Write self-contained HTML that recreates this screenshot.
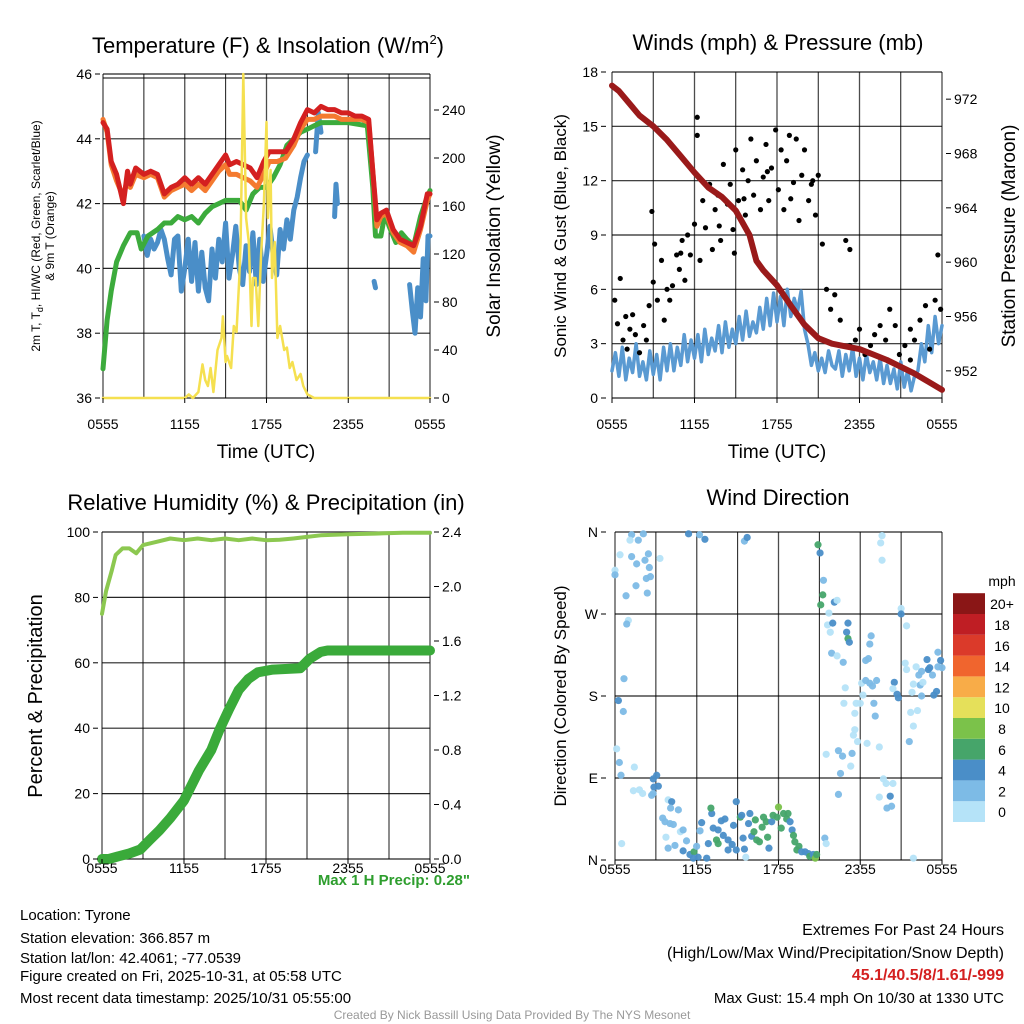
<!DOCTYPE html>
<html><head><meta charset="utf-8"><style>
body{margin:0;background:#fff}
svg{font-family:"Liberation Sans",sans-serif;display:block}
</style></head><body>
<svg id="s" width="1024" height="1024" viewBox="0 0 1024 1024">
<g id="grid"></g><g id="marks"></g><g id="axes"></g>
<text x="268" y="53" font-size="22" text-anchor="middle">Temperature (F) &amp; Insolation (W/m<tspan font-size="13" dy="-9">2</tspan><tspan dy="9">)</tspan></text>
<text x="778" y="50" font-size="22" text-anchor="middle">Winds (mph) &amp; Pressure (mb)</text>
<text x="266" y="510" font-size="22" text-anchor="middle">Relative Humidity (%) &amp; Precipitation (in)</text>
<text x="778" y="505" font-size="22" text-anchor="middle">Wind Direction</text>
<text transform="translate(40,236) rotate(-90)" font-size="12" text-anchor="middle">2m T, T<tspan font-size="9" dy="3">d</tspan><tspan dy="-3">, HI/WC (Red, Green, Scarlet/Blue)</tspan></text>
<text transform="translate(54,236) rotate(-90)" font-size="12" text-anchor="middle">&amp; 9m T (Orange)</text>
<text transform="translate(500,236) rotate(-90)" font-size="19" text-anchor="middle">Solar Insolation (Yellow)</text>
<text transform="translate(566,236) rotate(-90)" font-size="17" text-anchor="middle">Sonic Wind &amp; Gust (Blue, Black)</text>
<text transform="translate(1015,236) rotate(-90)" font-size="19" text-anchor="middle">Station Pressure (Maroon)</text>
<text transform="translate(42,696) rotate(-90)" font-size="20" text-anchor="middle">Percent &amp; Precipitation</text>
<text transform="translate(566,696) rotate(-90)" font-size="17" text-anchor="middle">Direction (Colored By Speed)</text>
<text x="266" y="458" font-size="19" text-anchor="middle">Time (UTC)</text>
<text x="777" y="458" font-size="19" text-anchor="middle">Time (UTC)</text>
<text x="470" y="885" font-size="15" font-weight="bold" fill="#2e9e2e" text-anchor="end">Max 1 H Precip: 0.28"</text>
<g font-size="15">
<text x="20" y="920">Location: Tyrone</text>
<text x="20" y="943">Station elevation: 366.857 m</text>
<text x="20" y="963">Station lat/lon: 42.4061; -77.0539</text>
<text x="20" y="981">Figure created on Fri, 2025-10-31, at 05:58 UTC</text>
<text x="20" y="1003">Most recent data timestamp: 2025/10/31 05:55:00</text>
</g>
<g font-size="16" text-anchor="end">
<text x="1004" y="935">Extremes For Past 24 Hours</text>
<text x="1004" y="958">(High/Low/Max Wind/Precipitation/Snow Depth)</text>
<text x="1004" y="980" font-weight="bold" fill="#d42020">45.1/40.5/8/1.61/-999</text>
<text x="1004" y="1003" font-size="15">Max Gust: 15.4 mph On 10/30 at 1330 UTC</text>
</g>
<text x="512" y="1019" font-size="12" fill="#999" text-anchor="middle">Created By Nick Bassill Using Data Provided By The NYS Mesonet</text>
<text x="1002" y="586" font-size="14" text-anchor="middle">mph</text>
</svg>
<script>
const xTicks=["0555","1155","1755","2355","0555"];
const tempTicks=[36,38,40,42,44,46];
const solarTicks=[0,40,80,120,160,200,240];
const windTicks=[0,3,6,9,12,15,18];
const presTicks=[952,956,960,964,968,972];
const rhTicks=[0,20,40,60,80,100];
const precipTicks=["0.0","0.4","0.8","1.2","1.6","2.0","2.4"];
const dirTicks=["N","E","S","W","N"];
const cbLabels=["0","2","4","6","8","10","12","14","16","18","20+"];
const cbColors=["#b5e3f8","#7dbbe6","#4a8ec8","#46a56a","#7bc24a","#e5e05a","#f8ac48","#f0652e","#db3a2a","#bf1e24","#8a1616"];

const redH=[0,0.3,0.6,1,1.5,1.8,2,2.4,3,3.5,4,4.5,5,5.5,6,6.5,7,7.5,8,8.5,9,9.3,9.8,10.3,10.8,11.3,11.8,12.2,12.8,13.4,14,14.5,15,15.5,16,16.5,17,17.5,18,18.5,19,19.5,19.8,20.1,20.4,20.8,21.3,21.8,22.3,22.8,23.3,23.8,24];
const redT=[44.5,44.3,43.3,42.9,42.0,43.0,42.6,43.1,42.9,43.0,42.9,42.3,42.5,42.6,42.8,42.6,42.8,42.6,42.9,43.2,43.5,43.2,43.3,43.2,43.1,42.8,43.3,43.6,43.6,43.6,44.0,44.5,44.9,44.8,45.0,44.9,44.9,44.8,44.8,44.7,44.7,44.6,43.0,41.5,41.7,41.8,41.2,40.9,40.8,40.7,41.3,42.3,42.3];
const orangeT=[44.6,44.2,43.2,42.7,42.2,42.8,42.5,42.9,42.8,42.9,42.8,42.2,42.4,42.5,42.6,42.4,42.6,42.4,42.7,43.0,43.2,42.9,42.9,42.8,42.7,42.5,42.9,43.3,43.3,43.4,43.8,44.3,44.6,44.6,44.7,44.7,44.7,44.6,44.6,44.6,44.6,44.5,43.0,41.3,41.6,41.7,41.1,40.8,40.7,40.5,41.2,42.1,42.3];
const greenH=[0,0.3,0.6,1,1.5,2,2.5,2.8,3.3,4,4.5,5,5.5,6,6.5,7,7.5,8,8.5,9,9.5,10,10.5,11,11.5,12,12.5,13,13.5,14,14.5,15,15.5,16,17,18,19.4,19.8,20.0,20.4,20.7,21.0,21.5,21.9,22.3,22.8,23.3,23.7,24];
const greenT=[36.9,38.4,39.3,40.2,40.7,41.1,41.1,40.6,41.0,41.2,41.4,41.4,41.6,41.5,41.6,41.4,41.7,41.9,42.0,42.1,42.1,42.1,41.8,42.3,42.5,42.5,42.8,43.2,43.8,44.0,44.2,44.3,44.4,44.5,44.5,44.5,44.4,42.5,41.0,41.0,41.7,41.3,40.8,41.1,40.9,40.7,41.6,42.1,42.4];
const dewAH=Array.from({length:49},(_,i)=>3+i*0.25);
const dewAT=[41.0,40.4,40.9,40.6,40.8,41.2,40.9,40.3,39.8,40.9,41.0,39.3,40.0,40.9,39.6,40.8,39.3,40.5,39.4,39.0,40.6,39.7,40.9,40.2,41.4,39.7,40.4,41.3,40.0,39.5,40.7,39.9,41.1,39.5,40.9,39.6,40.4,41.3,40.4,39.8,41.2,40.6,41.5,40.9,41.8,42.2,42.8,43.3,43.5];
const dewBH=[15.6,15.8,16.0], dewBT=[43.6,44.8,44.2];
const dewCH=[17.0,17.1,17.2], dewCT=[41.6,42.6,42.0];
const dewDH=[19.9,20.0], dewDT=[39.6,39.4];
const dewEH=[22.5,22.7,22.9,23.1,23.3,23.5,23.7,23.85,24.0];
const dewET=[39.5,38.7,38.0,39.4,38.5,40.3,39.0,41.0,41.0];
const solarH=[0,6.0,6.3,6.6,7.0,7.3,7.5,7.7,7.9,8.1,8.4,8.7,8.8,9.0,9.1,9.4,9.6,9.8,10.0,10.1,10.3,10.5,10.7,10.9,11.0,11.2,11.4,11.6,11.8,12.0,12.1,12.3,12.4,12.6,12.8,13.0,13.3,13.5,13.7,13.9,14.2,14.5,14.7,15.0,15.5,24];
const solarV=[0,0,3,0,5,28,15,10,25,5,40,50,68,30,35,25,60,55,100,130,270,150,130,60,100,100,60,120,160,230,150,190,100,130,50,60,40,42,25,30,15,20,10,3,0,0];

const windV=[1.5,2.5,1.2,2.8,1.0,2.2,1.4,3.0,1.2, 2.0,1.0,2.6,1.3,2.4,1.0,2.8,1.5, 3.0,1.5,2.8,1.8,3.5,2.0,3.2,2.2, 3.5,2.0,3.8,2.4,3.3,2.6,4.0,2.5, 4.2,2.8,3.8,3.0,4.5,3.2,4.8,3.4, 4.2,3.6,5.0,3.8,5.5,4.0,5.8,4.2, 5.6,4.0,6.0,4.5,5.5,4.8,5.9,3.8, 3.0,1.8,2.5,1.5,2.2,1.4,2.6,1.8, 1.6,2.6,1.2,2.4,1.5,2.8,1.2,2.2, 1.0,2.4,1.4,2.0,1.0,2.2,0.8,1.8, 0.8,1.6,0.5,2.0,0.6,1.5,0.4,1.2, 1.5,3.0,2.0,4.0,2.5,4.5,3.0,4.0];
const presH=[0,0.5,1,2,3,4,5,6,7,8,9,10,10.5,11,12,13,14,15,16,17,18,19,20,21,22,23,24];
const presV=[973,972.6,972,970.8,970,969,967.8,966.6,965.5,964.8,963.8,962,960.1,959.4,958.3,956.8,955.4,954.4,954.0,953.8,953.6,953.2,952.8,952.3,951.8,951.2,950.6];
const gustH=[0.2,0.4,0.6,0.8,1.1,1.3,1.5,1.7,2.0,2.3,2.5,2.7,2.9,3.1,3.3,3.6,3.8,4.0,4.2,4.4,4.7,4.9,5.1,5.3,5.5,5.7,6.0,6.2,6.2,6.4,6.6,6.8,7.1,7.3,7.5,7.7,7.9,8.1,8.4,8.6,8.8,9.0,9.2,9.5,9.7,9.9,10.1,10.3,10.5,10.8,11.0,11.2,11.4,11.6,11.9,12.1,12.3,12.5,12.7,12.9,13.2,13.4,13.6,13.8,14.0,14.3,14.5,14.8,15.0,15.3,15.6,15.9,16.2,16.6,17.0,17.3,17.3,17.7,18.0,18.4,18.8,19.1,19.5,19.9,20.2,20.6,20.9,21.3,21.7,21.7,22.0,22.4,22.8,23.1,23.5,23.7,23.9,1.0,3.0,5.0,7.8,9.6,11.3,13.0,14.6,8.9,10.6];
const gustV=[5.4,4.1,6.6,3.2,2.7,3.8,4.6,3.5,2.5,4.0,3.2,5.1,10.3,8.5,5.4,7.6,4.3,6.0,5.4,6.2,7.9,7.1,8.7,6.5,9.0,7.9,9.6,15.5,14.5,7.6,10.9,9.4,11.8,8.2,10.4,11.2,8.7,12.9,10.7,11.8,9.3,13.7,10.9,12.6,10.1,12.0,14.3,11.2,13.1,10.4,12.2,14.0,10.9,12.7,14.8,11.5,13.7,10.4,13.1,14.5,11.9,14.3,9.8,12.3,13.7,10.9,11.8,10.1,12.3,8.5,6.0,4.9,5.7,4.3,8.7,8.2,2.9,3.2,3.8,2.4,2.9,3.5,4.0,3.2,4.9,4.0,2.4,2.9,2.1,3.8,3.2,4.3,5.1,2.7,5.4,7.9,4.9,4.5,6.4,8.0,9.5,11.0,12.5,11.0,12.0,8.0,7.5];

const rhH=[0,0.3,0.7,1,1.5,2,2.5,3,4,5,6,7,8,9,10,11,12,13,14,15,16,18,20,22,24];
const rhV=[75,82,88,93,95,95,93.5,96,97,98,97.5,98,97.5,98,97.5,98,97.5,97.6,98,98.5,99,99.3,99.5,99.8,99.8];
const precipH=[0,0.5,1.2,2.0,2.8,3.5,4.2,5.0,6.0,7.1,8.0,8.6,9.3,10.0,10.7,11.4,12.5,14.5,15.2,16.0,16.5,24];
const precipV=[0,0.0,0.02,0.04,0.07,0.14,0.21,0.3,0.43,0.65,0.8,0.95,1.1,1.24,1.32,1.37,1.39,1.40,1.47,1.52,1.53,1.53];

const dirH=[1.22,1.71,2.08,1.10,0.37,1.22,1.59,2.2,2.45,2.52,2.3,2.6,0.0,0.0,1.54,0.81,2.37,3.3,5.4,6.2,6.6,9.5,9.7,0.98,0.86,0.66,0.25,0.61,0.12,0.32,0.44,1.42,1.35,1.79,2.03,0.49,2.81,3.06,3.18,2.86,2.69,2.8,3.9,4.16,4.08,4.65,3.5,3.67,4.04,4.28,3.74,3.9,4.4,4.8,5.0,5.25,5.0,5.5,5.8,5.75,6.1,5.99,6.24,6.36,6.73,6.85,7.1,7.04,7.21,7.57,7.45,7.57,7.8,8.07,7.95,8.3,8.6,8.3,8.7,8.9,8.9,9.2,9.3,9.4,9.5,9.6,9.8,9.9,10.03,10.3,10.2,10.4,10.6,10.8,10.9,11.1,11.2,11.3,11.5,11.6,11.9,12.0,12.2,12.37,12.6,12.7,12.85,13.0,13.1,13.2,13.35,13.5,13.7,13.95,14.2,14.3,14.55,14.7,14.8,14.9,15.05,15.3,15.25,15.1,15.7,16.1,16.3,15.6,15.8,15.98,17.0,17.1,17.1,17.2,15.9,16.3,16.75,16.9,16.8,17.7,17.6,17.6,17.5,17.8,18.0,18.1,18.2,18.4,18.7,18.9,19.2,18.4,18.6,18.7,18.8,19.0,19.1,18.5,19.4,16.4,16.7,17.4,17.3,16.55,16.4,15.5,15.4,15.5,19.6,19.5,19.6,19.7,19.9,20.4,20.2,19.4,19.96,20.3,21.0,21.0,21.4,20.5,20.7,20.8,20.4,21.3,21.4,21.8,21.7,22.2,21.9,21.6,22.1,22.3,22.5,22.9,23.0,23.1,23.3,22.4,22.6,21.9,22.5,23.4,23.6,23.7,23.9,24.0,23.7,21.9];
const dirDeg=[357,351,358,351,335,333,325,329,336,321,309,311,318,313,301,290,293,331,358,357,352,350,354,263,259,199,175,163,122,107,93,102,76,77,73,18,89,93,81,80,71,73,66,64,57,55,46,42,40,39,25,13,16,31,33,21,10,6,9,2,3,15,32,41,2,18,51,57,35,33,22,18,43,45,27,22,17,11,38,64,11,47,49,24,12,3,40,51,26,44,31,22,20,36,47,42,25,13,42,49,47,58,35,51,45,51,42,33,27,20,11,15,9,9,7,4,6,2,6,346,337,307,291,280,271,283,285,258,250,260,250,260,243,239,227,224,217,189,172,172,161,143,137,130,172,194,181,197,194,191,197,219,221,237,246,172,158,128,124,120,114,117,103,95,72,116,24,18,356,348,329,89,84,84,70,69,57,59,276,270,257,195,182,178,188,216,209,184,162,164,147,130,212,203,207,220,209,211,203,192,195,193,180,181,185,228,219,211,212,2];
const dirSpd=[3,3,3,1,1,3,3,3,3,3,3,3,1,3,3,3,3,1,5,3,5,3,5,1,3,3,5,3,1,3,3,1,1,1,1,1,5,5,5,5,3,3,1,5,3,3,3,3,3,3,1,3,3,1,3,3,5,5,7,5,5,3,3,5,5,5,5,7,5,5,7,7,5,5,5,5,5,5,5,5,5,7,5,5,5,1,5,5,5,7,7,7,7,7,7,7,7,5,5,7,7,9,7,7,7,7,5,5,7,7,7,7,5,5,5,7,5,9,7,7,5,3,7,7,1,5,1,1,1,5,5,5,7,5,3,1,3,1,1,1,1,1,1,1,1,1,1,3,3,3,3,3,3,3,3,3,3,1,1,3,3,3,1,3,3,1,3,1,1,1,1,1,1,1,5,1,3,3,1,5,1,5,5,5,1,1,1,1,1,1,1,3,1,3,3,5,5,5,3,3,1,1,3,5,5,3,5,3,3,1];

const NS='http://www.w3.org/2000/svg';
const grid=document.getElementById('grid'),marks=document.getElementById('marks'),axes=document.getElementById('axes');
function el(parent,tag,attrs){const e=document.createElementNS(NS,tag);for(const k in attrs)e.setAttribute(k,attrs[k]);parent.appendChild(e);return e;}
function lin(d0,d1,r0,r1){return v=>r0+(v-d0)/(d1-d0)*(r1-r0);}
function path(xs,ys,fx,fy){return xs.map((h,i)=>(i?'L':'M')+fx(h).toFixed(1)+','+fy(ys[i]).toFixed(1)).join('');}

function frame(x0,x1,y0,y1,nV,nH,name,lblOff){
  for(let k=0;k<=nV;k++){const x=x0+(x1-x0)*k/nV;
    const l=el(grid,'line',{x1:x,x2:x,y1:y0,y2:y1,stroke:'#000','stroke-width':k%2?1:1.3,'stroke-opacity':k%2?0.9:0.7});
    
    }
  for(let k=0;k<=nH;k++){const y=y1+(y0-y1)*k/nH;
    const l=el(grid,'line',{x1:x0,x2:x1,y1:y,y2:y,stroke:'#000','stroke-width':1.2,'stroke-opacity':0.85});
    
    }
  xTicks.forEach((t,i)=>{const x=x0+(x1-x0)*i/4;
    const tx=el(axes,'text',{x:x,y:y1+lblOff,'font-size':14,'text-anchor':'middle'});tx.textContent=t;
    
    
    el(axes,'line',{x1:x,x2:x,y1:y1,y2:y1+5,stroke:'#000'});});
}
function yTicks(labels,vals,fy,x,anchor,name){
  labels.forEach((t,i)=>{const y=fy(vals[i]);
    const tx=el(axes,'text',{x:x,y:y+5,'font-size':14,'text-anchor':anchor});tx.textContent=t;
    
    
    const dx=anchor==='end'?x+3:x-8;
    el(axes,'line',{x1:dx,x2:dx+5,y1:y,y2:y,stroke:'#000'});});
}
function line(xs,ys,fx,fy,color,w,name){
  const p=el(marks,'path',{d:path(xs,ys,fx,fy),fill:'none',stroke:color,'stroke-width':w,'stroke-linejoin':'round','stroke-linecap':'round'});
  
  
}

// Panel 1
{const fx=lin(0,24,103,430),ft=lin(36,46,398,74),fs=lin(0,270,398,74);
 frame(103,430,74,398,8,5,'temp',31);
 el(grid,'line',{x1:103,x2:430,y1:78,y2:78,stroke:'#000'});
 yTicks(tempTicks,tempTicks,ft,92,'end','temp-y-tick');
 yTicks(solarTicks,solarTicks,fs,442,'start','solar-y-tick');
 line(dewAH,dewAT,fx,ft,'#4a8ec8',5,'dewpoint-line');
 line(dewBH,dewBT,fx,ft,'#4a8ec8',5,'dewpoint-line');
 line(dewCH,dewCT,fx,ft,'#4a8ec8',5,'dewpoint-line');
 line(dewDH,dewDT,fx,ft,'#4a8ec8',5,'dewpoint-line');
 line(dewEH,dewET,fx,ft,'#4a8ec8',5,'dewpoint-line');
 line(greenH,greenT,fx,ft,'#3cab3c',5,'hi-wc-line');
 line(redH,orangeT,fx,ft,'#f47a30',5,'temp-9m-line');
 line(redH,redT,fx,ft,'#d42020',5,'temp-2m-line');
 line(solarH,solarV,fx,fs,'#f5e050',2.5,'solar-line');
}
// Panel 2
{const fx=lin(0,24,612,942),fw=lin(0,18,398,72),fp=lin(950,974,398,72);
 frame(612,942,72,398,8,6,'wind',31);
 yTicks(windTicks,windTicks,fw,598,'end','wind-y-tick');
 yTicks(presTicks,presTicks,fp,954,'start','pressure-y-tick');
 const wh=windV.map((_,i)=>i*0.25);
 line(wh,windV,fx,fw,'#5a9ad2',3.5,'wind-line');
 gustH.forEach((h,i)=>{const c=el(marks,'circle',{cx:fx(h),cy:fw(gustV[i]),r:2.6,fill:'#000'});
   
   });
 line(presH,presV,fx,fp,'#9a1a1a',6,'pressure-line');
}
// Panel 3
{const fx=lin(0,24,102,430),fr=lin(0,100,859,532),fpr=lin(0,2.4,859,532);
 frame(102,430,532,859,8,5,'rh',14);
 yTicks(rhTicks,rhTicks,fr,90,'end','rh-y-tick');
 yTicks(precipTicks,precipTicks.map(Number),fpr,442,'start','precip-y-tick');
 line(rhH,rhV,fx,fr,'#8cc850',4,'rh-line');
 line(precipH,precipV,fx,fpr,'#3aaa3a',10,'precip-line');
}
// Panel 4
{const fx=lin(0,24,615,942),fd=lin(0,360,860,532);
 frame(615,942,532,860,8,4,'dir',14);
 yTicks(dirTicks,[0,90,180,270,360],fd,598,'end','dir-y-tick');
 const col=s=>cbColors[Math.min(10,Math.floor(s/2))];
 dirH.forEach((h,i)=>{const c=el(marks,'circle',{cx:fx(h),cy:fd(dirDeg[i]),r:3.6,fill:col(dirSpd[i]),'fill-opacity':0.95});
   
   });
 cbColors.forEach((c,i)=>{const y=822-(i+1)*20.8;
   const r=el(axes,'rect',{x:953,y:y,width:32,height:20.8,fill:c});
   
   
   const t=el(axes,'text',{x:1002,y:y+16,'font-size':14,'text-anchor':'middle'});t.textContent=cbLabels[i];
   
   });
}
</script>
</body></html>
